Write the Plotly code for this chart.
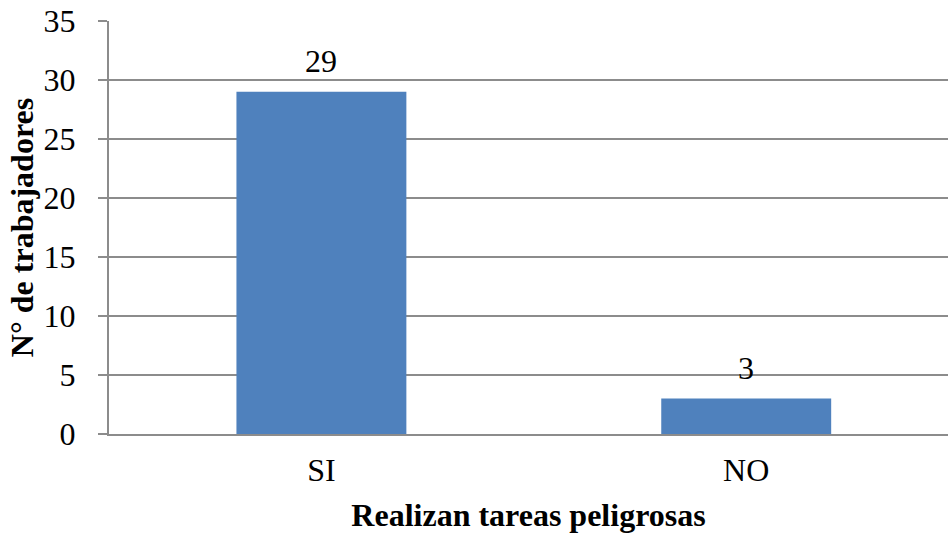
import plotly.graph_objects as go

categories = ["SI", "NO"]
values = [29, 3]
y_ticks = [0, 5, 10, 15, 20, 25, 30, 35]

font_family = "Liberation Serif, Times New Roman, serif"
FS = 32

fig = go.Figure(go.Bar(
    x=categories, y=values, width=0.4,
    marker=dict(color="#4F81BD", line=dict(width=0)),
    hoverinfo="x+y",
))

for c, v in zip(categories, values):
    fig.add_annotation(x=c, y=v, text=str(v), showarrow=False,
                       yanchor="bottom", yshift=11,
                       font=dict(family=font_family, size=FS, color="black"))

fig.update_layout(
    width=948, height=533,
    margin=dict(l=109, r=0, t=21, b=99),
    paper_bgcolor="white", plot_bgcolor="white",
    showlegend=False,
    font=dict(family=font_family, size=FS, color="black"),
    xaxis=dict(
        range=[-0.5, 1.475],
        showline=True, linecolor="#8c8c8c", linewidth=2,
        ticks="", showgrid=False, automargin=False,
        tickfont=dict(size=FS), ticklabelstandoff=7,
        title=dict(text="<b>Realizan tareas peligrosas</b>", font=dict(size=FS), standoff=18),
    ),
    yaxis=dict(
        range=[0, 35], tickvals=y_ticks,
        showline=True, linecolor="#8c8c8c", linewidth=2,
        ticks="outside", ticklen=9, tickcolor="#8c8c8c", tickwidth=2,
        showgrid=True, gridcolor="#8c8c8c", gridwidth=2,
        zeroline=False, automargin=False,
        tickfont=dict(size=FS), ticklabelstandoff=16,
        title=dict(text="<b>N° de trabajadores</b>", font=dict(size=FS), standoff=0),
    ),
)

fig.write_html("out.html", config={"displayModeBar": False},
               post_script="document.body.style.margin='0';document.body.style.overflow='hidden';")
